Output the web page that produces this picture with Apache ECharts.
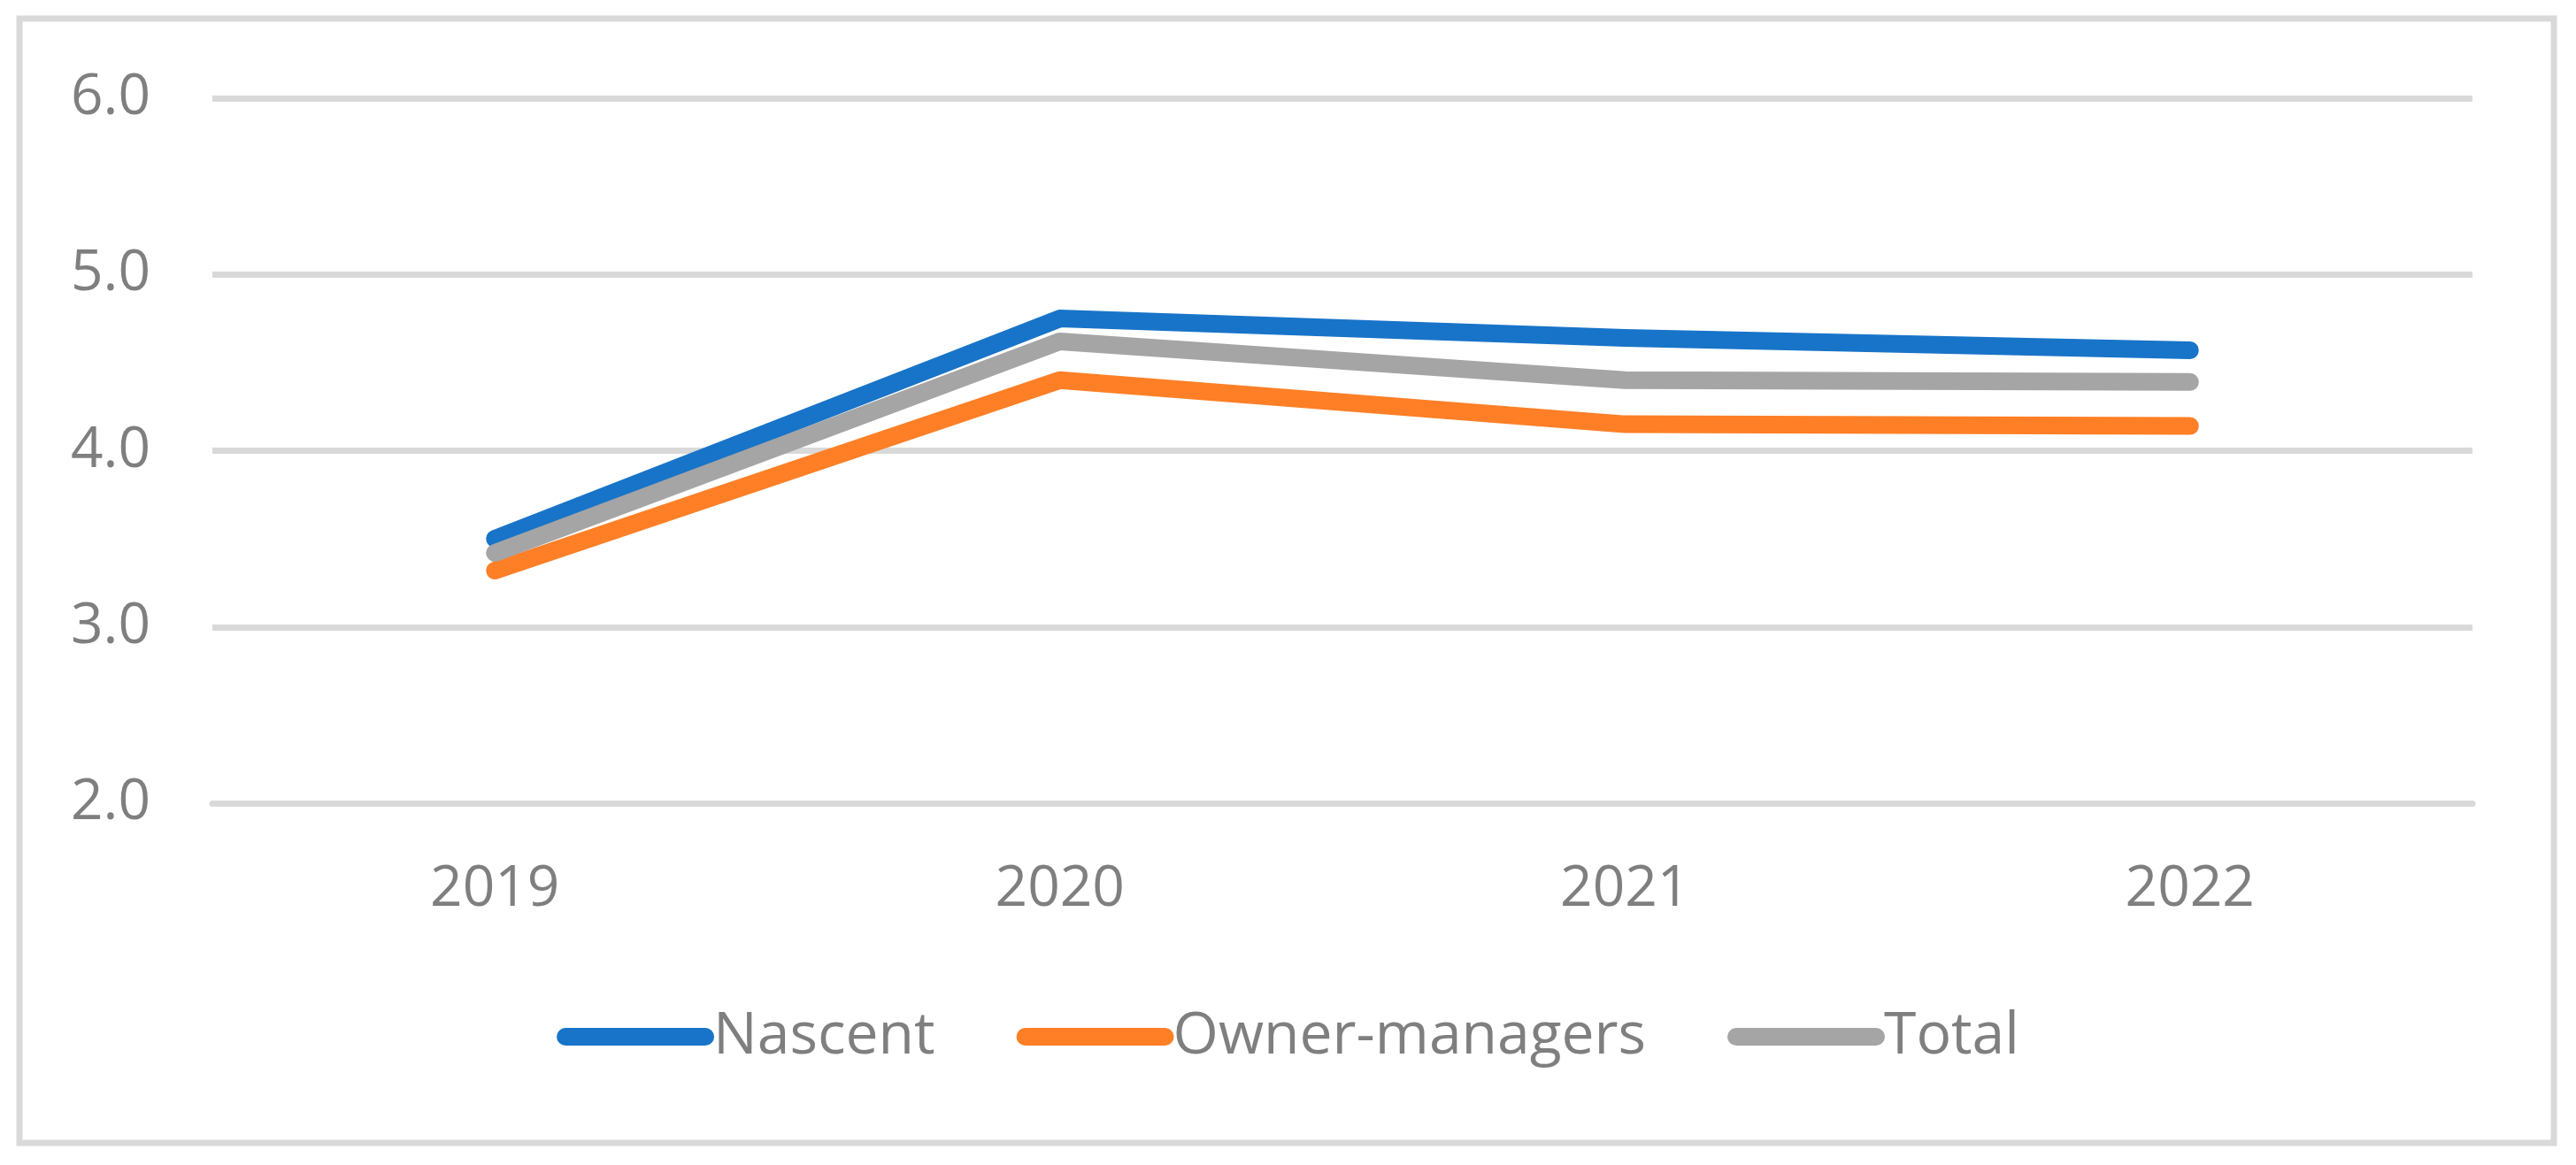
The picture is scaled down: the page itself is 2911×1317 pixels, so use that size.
<!DOCTYPE html>
<html>
<head>
<meta charset="utf-8">
<script src="https://cdn.jsdelivr.net/npm/echarts@6/dist/echarts.min.js"></script>
<style>
html,body{margin:0;padding:0;background:#fff;}
#chart{width:2911px;height:1317px;}
</style>
</head>
<body>
<div id="chart"></div>
<script>
const categories = ['2019', '2020', '2021', '2022'];
const nascent = [3.50, 4.75, 4.64, 4.57];
const ownerManagers = [3.32, 4.40, 4.15, 4.14];
const total = [3.42, 4.62, 4.40, 4.39];
const seriesNames = ['Nascent', 'Owner-managers', 'Total'];
const colors = ['#1874C8', '#FE7F26', '#A5A5A5'];

const FONT = 'Open Sans';
const chart = echarts.init(document.getElementById('chart'));
const lineSeries = (name, data, color) => ({
  name: name,
  type: 'line',
  data: data,
  symbol: 'none',
  color: color,
  lineStyle: { width: 20, color: color, cap: 'round', join: 'round' },
  itemStyle: { color: color }
});

chart.setOption({
  backgroundColor: '#fff',
  animation: false,
  graphic: [{
    type: 'rect',
    shape: { x: 22, y: 21, width: 2864, height: 1271 },
    style: { fill: 'none', stroke: '#D9D9D9', lineWidth: 7 }
  }],
  grid: { left: 240, right: 117, top: 111, bottom: 409, containLabel: false },
  legend: {
    data: seriesNames,
    left: 'center',
    top: 1134,
    itemWidth: 178,
    itemHeight: 20,
    itemGap: 92,
    icon: 'path://M10,0 L168,0 A10,10 0 0 1 168,20 L10,20 A10,10 0 0 1 10,0 Z',
    textStyle: { fontFamily: FONT, fontSize: 66, color: '#7F7F7F', padding: [0, 0, 0, -6] }
  },
  xAxis: {
    type: 'category',
    data: categories,
    boundaryGap: true,
    axisLine: { show: true, lineStyle: { color: '#D9D9D9', width: 7 } },
    axisTick: { show: false },
    axisLabel: { fontFamily: FONT, fontSize: 64, color: '#7F7F7F', margin: 66 }
  },
  yAxis: {
    type: 'value',
    min: 2,
    max: 6,
    interval: 1,
    axisLine: { show: false },
    axisTick: { show: false },
    axisLabel: {
      fontFamily: FONT, fontSize: 64, color: '#7F7F7F', margin: 70,
      formatter: v => v.toFixed(1)
    },
    splitLine: { lineStyle: { color: '#D9D9D9', width: 7 } }
  },
  series: [
    lineSeries(seriesNames[0], nascent, colors[0]),
    lineSeries(seriesNames[1], ownerManagers, colors[1]),
    lineSeries(seriesNames[2], total, colors[2])
  ]
});
</script>
</body>
</html>
